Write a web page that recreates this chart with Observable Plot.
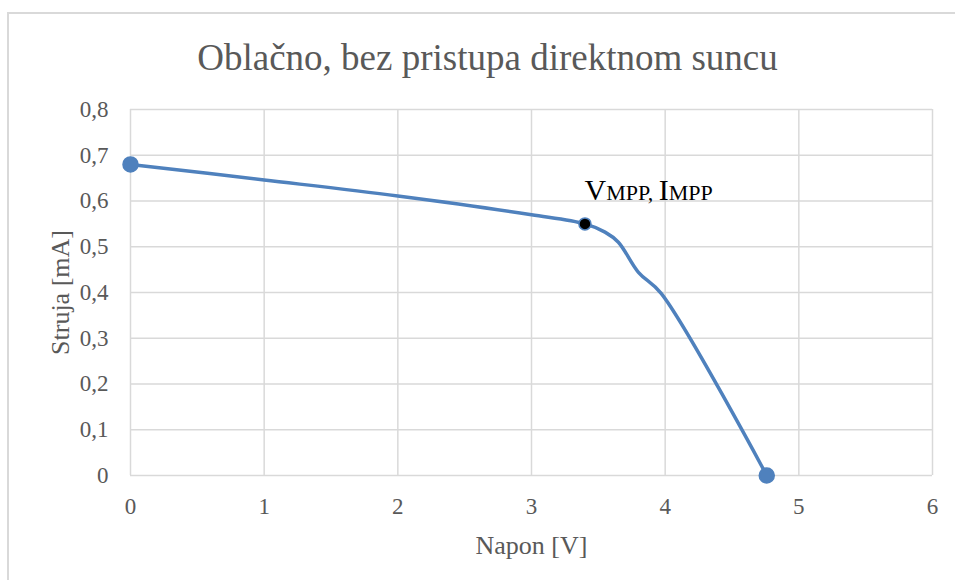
<!DOCTYPE html>
<html>
<head>
<meta charset="utf-8">
<script src="https://cdn.jsdelivr.net/npm/d3@7"></script>
<script src="https://cdn.jsdelivr.net/npm/@observablehq/plot@0.6"></script>
<style>
  html, body { margin: 0; padding: 0; background: #fff; }
  #wrap { position: relative; width: 955px; height: 580px; overflow: hidden; }
  #frame { position: absolute; left: 7px; top: 12px; right: -2px; bottom: -2px;
           border-left: 2px solid #d9d9d9; border-top: 2px solid #d9d9d9; }
  #chart { position: absolute; left: 0; top: 0; }
  #chart svg text { font-family: 'Liberation Serif', 'Times New Roman', serif !important; }
</style>
</head>
<body>
<div id="wrap"><div id="frame"></div><div id="chart"></div></div>
<script>
const title = "Oblačno, bez pristupa direktnom suncu";
const xLabel = "Napon [V]";
const yLabel = "Struja [mA]";
const napon  = [0, 1, 2, 3, 3.4, 3.55, 3.65, 3.8, 3.97, 4.76];
const struja = [0.68, 0.646, 0.611, 0.57, 0.55, 0.532, 0.51, 0.444, 0.398, 0];
const xTicks = [0, 1, 2, 3, 4, 5, 6];
const yTicks = [0, 0.1, 0.2, 0.3, 0.4, 0.5, 0.6, 0.7, 0.8];
const yTickLabels = ["0", "0,1", "0,2", "0,3", "0,4", "0,5", "0,6", "0,7", "0,8"];
const markedIdx = [0, 9];
const mppIdx = 4;

const data = napon.map((v, i) => ({v, i: struja[i]}));
const marked = markedIdx.map(k => data[k]);
const mpp = [data[mppIdx]];

const blue = "#4f81bd";
const grid = "#d9d9d9";
const txt = "#595959";
const font = "'Liberation Serif', 'Times New Roman', serif";

const plot = Plot.plot({
  width: 955,
  height: 580,
  marginLeft: 130,
  marginRight: 23,
  marginTop: 109,
  marginBottom: 105,
  style: {fontFamily: font, background: "transparent", color: txt},
  x: {domain: [0, 6]},
  y: {domain: [0, 0.8]},
  marks: [
    Plot.gridX(xTicks, {stroke: grid, strokeOpacity: 1, strokeWidth: 1.5}),
    Plot.gridY(yTicks, {stroke: grid, strokeOpacity: 1, strokeWidth: 1.5}),
    Plot.axisX(xTicks, {tickSize: 0, tickPadding: 22, fontSize: 23, fill: txt, label: null, tickFormat: d => String(d)}),
    Plot.axisY(yTicks, {tickSize: 0, tickPadding: 22, fontSize: 23, fill: txt, label: null,
      tickFormat: d => yTickLabels[yTicks.indexOf(d)]}),
    Plot.line(data, {x: "v", y: "i", stroke: blue, strokeWidth: 3.5, curve: "catmull-rom"}),
    Plot.dot(marked, {x: "v", y: "i", r: 7.5, fill: blue, stroke: blue}),
    Plot.dot(mpp, {x: "v", y: "i", r: 6, fill: "black", stroke: blue, strokeWidth: 1.5}),
    Plot.text([xLabel], {frameAnchor: "bottom", dy: 70, fontSize: 26, fill: txt, lineAnchor: "middle", textAnchor: "middle"}),
    Plot.text([yLabel], {frameAnchor: "left", dx: -70, rotate: -90, fontSize: 26, fill: txt, lineAnchor: "middle", textAnchor: "middle"}),
    Plot.text([title], {frameAnchor: "top", dx: -44, dy: -51, fontSize: 37, fill: txt, lineAnchor: "middle", textAnchor: "middle"})
  ]
});

// MPP annotation with small-size subscripts, anchored via the plot's scales
const sx = plot.scale("x"), sy = plot.scale("y");
const ax = sx.apply(napon[mppIdx]), ay = sy.apply(struja[mppIdx]) - 23;
const svg = d3.select(plot);
const t = svg.append("text")
  .attr("x", ax).attr("y", ay)
  .attr("text-anchor", "start")
  .attr("fill", "black")
  .style("font-family", font);
t.append("tspan").attr("font-size", 30).text("V");
t.append("tspan").attr("font-size", 22).text("MPP, ");
t.append("tspan").attr("font-size", 30).text("I");
t.append("tspan").attr("font-size", 22).text("MPP");

document.getElementById("chart").appendChild(plot);
</script>
</body>
</html>
